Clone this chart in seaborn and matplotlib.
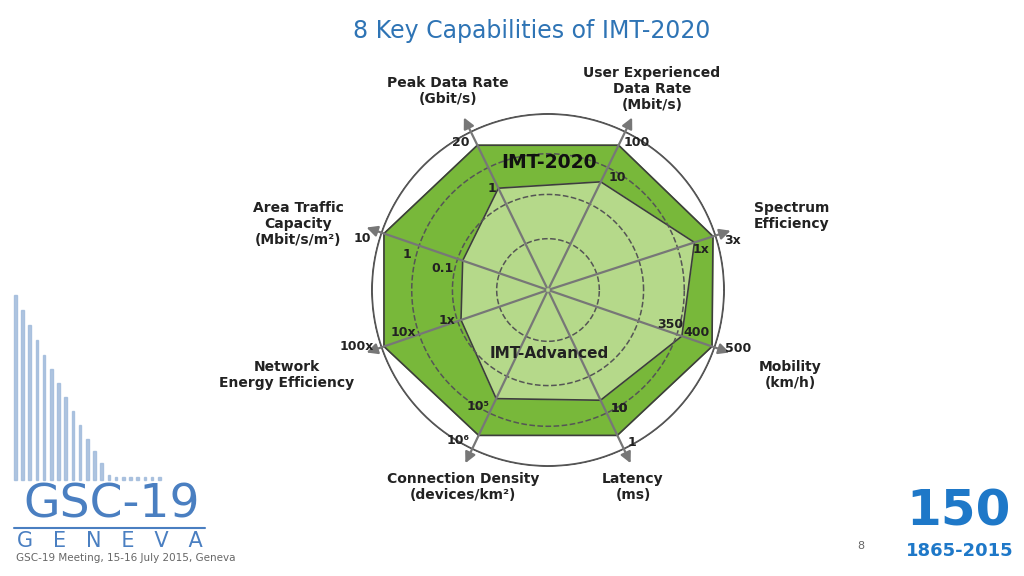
import numpy as np
import matplotlib
matplotlib.use("Agg")
import matplotlib.pyplot as plt
import seaborn as sns
from matplotlib.patches import Rectangle

categories = ["Peak Data Rate\n(Gbit/s)", "User Experienced\nData Rate\n(Mbit/s)", "Spectrum\nEfficiency",
              "Mobility\n(km/h)", "Latency\n(ms)", "Connection Density\n(devices/km²)",
              "Network\nEnergy Efficiency", "Area Traffic\nCapacity\n(Mbit/s/m²)"]
angles_deg = [116, 64, 18, -19, -64.5, -115.5, -161, 161]
imt2020 = [0.91, 0.91, 0.98, 0.98, 0.91, 0.91, 0.98, 0.98]
imt_adv = [0.64, 0.68, 0.87, 0.80, 0.69, 0.68, 0.52, 0.51]
outer_labels = ["20", "100", "3x", "500", "1", "10⁶", "100x", "10"]
inner_labels = ["1", "10", "1x", "350", "10", "10⁵", "1x", "0.1"]
extra_labels = [("400", 697, 333), ("10", 619, 408), ("10x", 403, 332), ("1", 407, 254)]

sns.set_theme(style="white")
W, H = 1024, 576
fig = plt.figure(figsize=(W/100, H/100), dpi=100)
fig.patch.set_facecolor("white")

cx, cy, R = 548, 290, 177
ax = fig.add_axes([(cx-R)/W, 1-(cy+R)/H, 2*R/W, 2*R/H], projection="polar")
ax.set_ylim(0, 1)
ax.axis("off")
th = np.deg2rad(angles_deg)
thc = np.append(th, th[0])
ax.fill(thc, np.append(imt2020, imt2020[0]), color="#78B83A", zorder=1)
ax.plot(thc, np.append(imt2020, imt2020[0]), color="#3d3d3d", lw=1.2, zorder=2)
ax.fill(thc, np.append(imt_adv, imt_adv[0]), color="#B5D98A", zorder=3)
ax.plot(thc, np.append(imt_adv, imt_adv[0]), color="#3d3d3d", lw=1.2, zorder=4)
circ = np.linspace(0, 2*np.pi, 300)
ax.plot(circ, np.ones_like(circ)*0.995, color="#555555", lw=1.5, zorder=5)
for rr in [0.29, 0.54, 0.77]:
    ax.plot(circ, np.ones_like(circ)*rr, color="#555555", lw=1.1, ls="--", zorder=5)
for t in th:
    ax.annotate("", xy=(t, 1.1), xytext=(0, 0), xycoords="data",
                arrowprops=dict(arrowstyle="-|>", color="#777777", lw=1.6, mutation_scale=16),
                annotation_clip=False, zorder=6)

def ft(x, y, s, **kw):
    fig.text(x/W, 1-y/H, s, **kw)

bold = dict(fontsize=10, fontweight="bold", color="#222222", ha="center", va="center", linespacing=1.2)
ft(448, 91, categories[0], **bold)
ft(652, 89, categories[1], **bold)
ft(792, 216, categories[2], **bold)
ft(790, 375, categories[3], **bold)
ft(633, 487, categories[4], **bold)
ft(463, 487, categories[5], **bold)
ft(287, 375, categories[6], **bold)
ft(298, 224, categories[7], **bold)

sm = dict(fontsize=9, fontweight="bold", color="#222222", ha="center", va="center")
for s, (x, y) in zip(outer_labels, [(461, 143), (637, 143), (733, 240), (738, 349), (632, 442), (458, 440), (357, 346), (362, 239)]):
    ft(x, y, s, **sm)
for s, (x, y) in zip(inner_labels, [(492, 189), (617, 177), (701, 249), (670, 325), (619, 408), (478, 406), (447, 320), (443, 268)]):
    ft(x, y, s, **sm)
for s, x, y in extra_labels:
    ft(x, y, s, **sm)
ft(549, 162, "IMT-2020", fontsize=13.5, fontweight="bold", color="#111111", ha="center", va="center")
ft(549, 354, "IMT-Advanced", fontsize=11, fontweight="bold", color="#222222", ha="center", va="center")

ft(532, 31, "8 Key Capabilities of IMT-2020", fontsize=17, color="#2E74B5", ha="center", va="center")

# GSC-19 logo bars
heights = [270, 255, 240, 225, 210, 196, 182, 168, 154, 140, 126, 114, 102, 90, 80, 70, 60, 52, 44, 38, 32]
for i, h in enumerate(heights):
    x = 14 + i*7.2
    fig.add_artist(Rectangle((x/W, (576-560+80)/H), 2.5/W, max(h-85, 3)/H,
                             color="#9DB8DA", transform=fig.transFigure, alpha=0.8))
ft(112, 505, "GSC-19", fontsize=34, color="#4A7FC1", ha="center", va="center")
fig.add_artist(plt.Line2D([14/W, 205/W], [1-528/H, 1-528/H], color="#4A7FC1", lw=1.5))
ft(110, 541, "G   E   N   E   V   A", fontsize=15, color="#4A7FC1", ha="center", va="center")
ft(16, 558, "GSC-19 Meeting, 15-16 July 2015, Geneva", fontsize=7.5, color="#666666", ha="left", va="center")
ft(861, 546, "8", fontsize=8, color="#666666", ha="center", va="center")
ft(958, 512, "150", fontsize=36, fontweight="bold", color="#1E78C8", ha="center", va="center")
ft(960, 551, "1865-2015", fontsize=13, fontweight="bold", color="#1E78C8", ha="center", va="center")

fig.savefig("out.png", dpi=100, facecolor="white")
